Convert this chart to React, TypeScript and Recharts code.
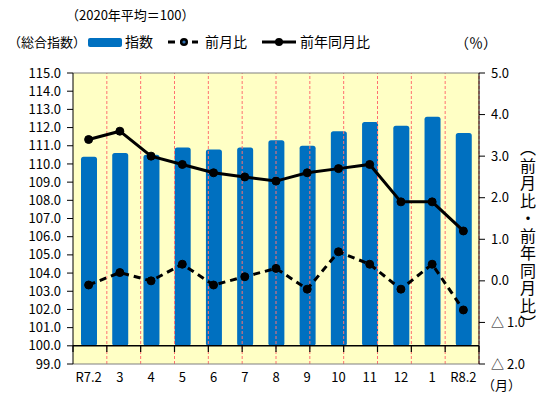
import React from 'react';
import {
    ComposedChart, Bar, Line, XAxis, YAxis, CartesianGrid, ReferenceLine
} from 'recharts';

// 月（横軸）
const months = ['R7.2', '3', '4', '5', '6', '7', '8', '9', '10', '11', '12', '1', 'R8.2'];
// 指数（2020年平均=100）
const indexValues = [110.4, 110.6, 110.5, 110.9, 110.8, 110.9, 111.3, 111.0, 111.8, 112.3, 112.1, 112.6, 111.7];
// 前月比（%）
const momValues = [-0.1, 0.2, 0.0, 0.4, -0.1, 0.1, 0.3, -0.2, 0.7, 0.4, -0.2, 0.4, -0.7];
// 前年同月比（%）
const yoyValues = [3.4, 3.6, 3.0, 2.8, 2.6, 2.5, 2.4, 2.6, 2.7, 2.8, 1.9, 1.9, 1.2];

const leftTicks = [99, 100, 101, 102, 103, 104, 105, 106, 107, 108, 109, 110, 111, 112, 113, 114, 115];
const rightTicks = [-2, -1, 0, 1, 2, 3, 4, 5];

const data = months.map((m, i) => ({
    month: m,
    index: indexValues[i],
    mom: momValues[i],
    yoy: yoyValues[i],
}));

const boundaries = months.slice(1).map((_, i) => i + 1);

const FONT = '"Noto Sans CJK JP", "Noto Sans", sans-serif';
const BAR_COLOR = '#0070C0';
const tickStyle = { fontSize: 13, fill: '#000', fontFamily: FONT };

const fmtRight = (v: number) => (v < 0 ? `△ ${Math.abs(v).toFixed(1)}` : v.toFixed(1));

const txt = (left: number, top: number, s: string, extra: any = {}) => (
    <div style={{
        position: 'absolute', left, top, fontSize: 13, fontFamily: FONT,
        color: '#000', whiteSpace: 'nowrap', lineHeight: '16px', ...extra
    }}>{s}</div>
);

const App = () => {
    return (
        <div style={{ position: 'absolute', left: 0, top: 0, width: 550, height: 404, background: '#fff' }}>
            <ComposedChart
                width={550}
                height={404}
                data={data}
                margin={{ top: 73, right: 0, bottom: 0, left: 0 }}
            >
                <CartesianGrid
                    xAxisId="cat"
                    yAxisId="left"
                    horizontal={false}
                    vertical={false}
                    fill="#FFFFC5"
                    stroke="none"
                />
                <XAxis
                    xAxisId="cat"
                    dataKey="month"
                    height={40}
                    axisLine={false}
                    tickLine={false}
                    tickSize={0}
                    tickMargin={9}
                    interval={0}
                    tick={tickStyle}
                />
                <XAxis xAxisId="num" type="number" domain={[0, 13]} hide allowDataOverflow />
                <YAxis
                    yAxisId="left"
                    orientation="left"
                    width={73}
                    domain={[99, 115]}
                    ticks={leftTicks}
                    interval={0}
                    allowDataOverflow
                    tickFormatter={(v: number) => v.toFixed(1)}
                    axisLine={{ stroke: '#000' }}
                    tickLine={{ stroke: '#000' }}
                    tickSize={6}
                    tickMargin={6}
                    tick={tickStyle}
                />
                <YAxis
                    yAxisId="right"
                    orientation="right"
                    width={71}
                    domain={[-2, 5]}
                    ticks={rightTicks}
                    interval={0}
                    allowDataOverflow
                    tickFormatter={fmtRight}
                    axisLine={{ stroke: '#000' }}
                    tickLine={{ stroke: '#000' }}
                    tickSize={6}
                    tickMargin={6}
                    tick={tickStyle}
                />
                {boundaries.map((b) => (
                    <ReferenceLine
                        key={'v' + b}
                        xAxisId="num"
                        yAxisId="left"
                        x={b}
                        stroke="#FF7070"
                        strokeDasharray="3 2"
                        strokeWidth={1}
                    />
                ))}
                <ReferenceLine xAxisId="num" yAxisId="left" y={115} stroke="#808080" strokeWidth={1.2} />
                <ReferenceLine xAxisId="num" yAxisId="left" y={99} stroke="#808080" strokeWidth={1.2} />
                <Bar
                    xAxisId="cat"
                    yAxisId="left"
                    dataKey={(d: any) => [100, d.index]}
                    name="指数"
                    fill={BAR_COLOR}
                    barSize={16}
                    radius={2.5}
                    isAnimationActive={false}
                />
                <ReferenceLine xAxisId="num" yAxisId="left" y={100} stroke="#000" strokeWidth={1.5} />
                {[0, ...boundaries, 13].map((b) => (
                    <ReferenceLine
                        key={'t' + b}
                        xAxisId="num"
                        yAxisId="left"
                        segment={[{ x: b, y: 100 }, { x: b, y: 99.66 }]}
                        stroke="#000"
                        strokeWidth={1.2}
                    />
                ))}
                <Line
                    xAxisId="cat"
                    yAxisId="right"
                    dataKey="mom"
                    name="前月比"
                    stroke="#000"
                    strokeWidth={3}
                    strokeDasharray="7 5"
                    dot={{ r: 4, fill: '#000', stroke: '#000', strokeWidth: 1, strokeDasharray: '' }}
                    isAnimationActive={false}
                />
                <Line
                    xAxisId="cat"
                    yAxisId="right"
                    dataKey="yoy"
                    name="前年同月比"
                    stroke="#000"
                    strokeWidth={3}
                    dot={{ r: 4, fill: '#000', stroke: '#000', strokeWidth: 1 }}
                    isAnimationActive={false}
                />
            </ComposedChart>

            {txt(66, 7, '（2020年平均＝100）')}
            {txt(8, 34, '（総合指数）')}
            {/* 凡例 */}
            <div style={{ position: 'absolute', left: 88, top: 38, width: 34, height: 9, background: BAR_COLOR, borderRadius: 2 }} />
            {txt(125, 33, '指数', { fontSize: 14 })}
            <svg style={{ position: 'absolute', left: 166, top: 35 }} width={34} height={14}>
                <line x1={2} y1={7} x2={32} y2={7} stroke="#000" strokeWidth={3} strokeDasharray="7 5" />
                <circle cx={18} cy={7} r={4} fill="#000" />
                <circle cx={18} cy={7} r={1.6} fill="#2E6FB0" />
            </svg>
            {txt(205, 33, '前月比', { fontSize: 14 })}
            <svg style={{ position: 'absolute', left: 261, top: 35 }} width={36} height={14}>
                <line x1={1} y1={7} x2={35} y2={7} stroke="#000" strokeWidth={3} />
                <circle cx={18} cy={7} r={4} fill="#000" />
            </svg>
            {txt(300, 33, '前年同月比', { fontSize: 14 })}
            {txt(455, 34, '（％）', { fontSize: 14 })}
            <div style={{
                position: 'absolute', left: 519, top: 140, writingMode: 'vertical-rl',
                fontSize: 16, fontFamily: FONT, lineHeight: '18px', letterSpacing: 1.5, color: '#000'
            }}>（前月比・前年同月比）</div>
            {txt(482, 377, '（月）')}
        </div>
    );
};

export default App;
